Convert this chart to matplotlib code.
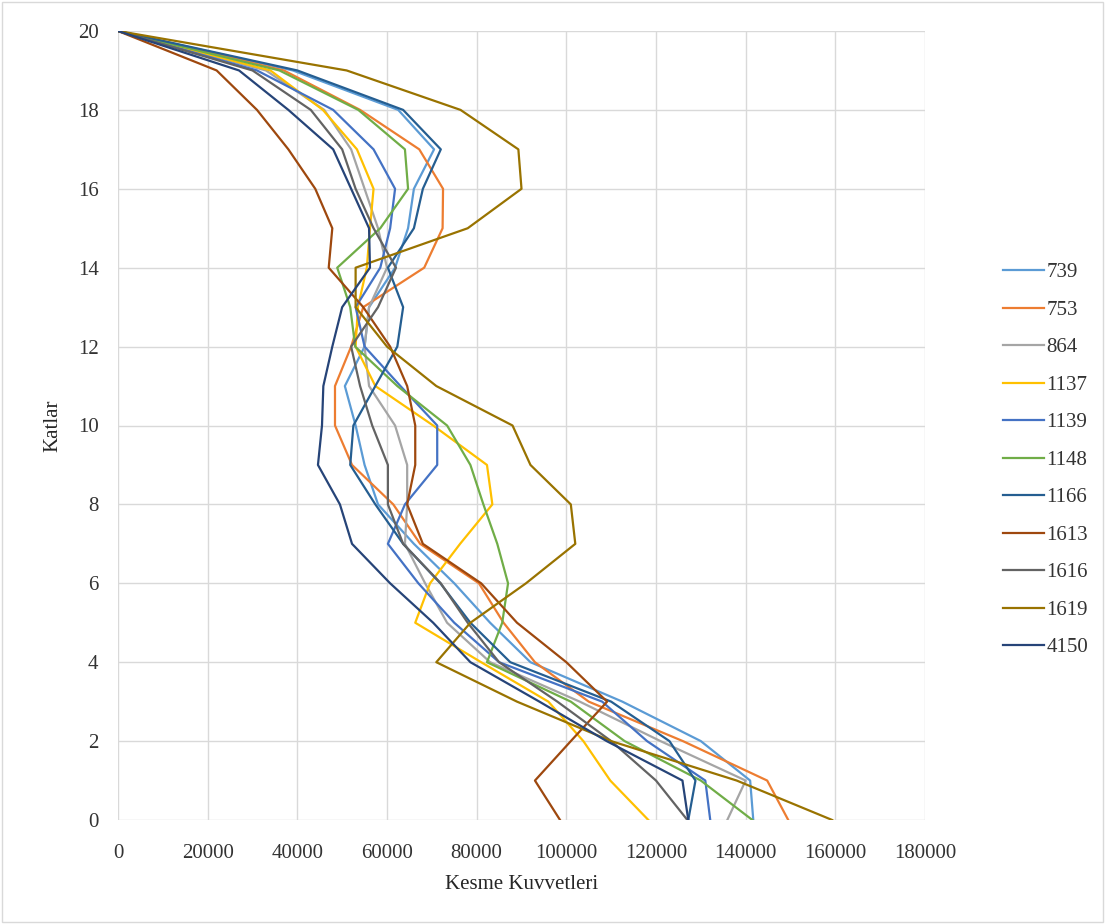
import matplotlib.pyplot as plt
from matplotlib.patches import Rectangle

# floors 0..20
floors = list(range(21))

s739 = [141700, 141000, 130000, 112500, 92000, 83000, 75000, 66000, 58000, 55000, 53000,
        50600, 55000, 56000, 61800, 64700, 66000, 70500, 62500, 39000, 0]
s753 = [149500, 144800, 126000, 105000, 93000, 86000, 80500, 67400, 61400, 52200, 48400,
        48400, 52000, 54700, 68300, 72400, 72500, 67200, 54000, 37000, 0]
s864 = [135900, 140000, 121000, 103000, 83000, 73400, 68500, 64000, 64500, 64500, 61800,
        56000, 55000, 56000, 60000, 58000, 55000, 52000, 46000, 33000, 0]
s1137 = [118300, 109800, 103800, 96000, 81000, 66300, 69600, 76300, 83500, 82300, 70300,
         57400, 53000, 53500, 55500, 56200, 57000, 53300, 45700, 34000, 0]
s1139 = [132100, 131000, 118000, 108000, 85000, 75000, 67000, 60200, 64000, 71200, 71200,
         63000, 55000, 53000, 58500, 60700, 61800, 57000, 48000, 31000, 0]
s1148 = [141500, 130000, 113000, 101000, 82300, 85700, 87000, 84600, 81500, 78600, 73400,
         62300, 52900, 51800, 48900, 58500, 64700, 64000, 53600, 36000, 0]
s1166 = [127200, 128800, 123000, 110000, 87500, 78600, 71900, 63600, 57400, 51800, 52500,
         57400, 62300, 63600, 60200, 66000, 68000, 72000, 63600, 40000, 0]
s1613 = [98600, 93000, 101000, 109100, 100000, 89000, 81000, 68000, 64500, 66300, 66300,
         64500, 60700, 54700, 47000, 47800, 44000, 38000, 31000, 22000, 0]
s1616 = [127000, 120000, 110000, 98000, 85000, 78000, 72000, 63600, 60200, 60200, 56700,
         54000, 52000, 58000, 62000, 57000, 53000, 50000, 43000, 30000, 0]
s1619 = [159300, 138000, 110000, 89000, 71000, 78600, 91000, 102000, 101000, 92000, 88000,
         71000, 60000, 53000, 53000, 78000, 90000, 89300, 76400, 51000, 0]
s4150 = [127200, 125900, 109000, 94000, 78600, 70300, 60700, 52200, 49500, 44600, 45500,
         45800, 47800, 50000, 56200, 56000, 52000, 48000, 38000, 27000, 0]

series = [("739", s739), ("753", s753), ("864", s864), ("1137", s1137), ("1139", s1139),
          ("1148", s1148), ("1166", s1166), ("1613", s1613), ("1616", s1616),
          ("1619", s1619), ("4150", s4150)]

# Excel default palette
colors = ['#5B9BD5', '#ED7D31', '#A5A5A5', '#FFC000', '#4472C4', '#70AD47',
          '#255E91', '#9E480E', '#636363', '#997300', '#264478']

plt.rcParams['font.family'] = ['Liberation Serif', 'DejaVu Serif']

fig = plt.figure(figsize=(11.05, 9.24), dpi=100)
ax = fig.add_axes([118/1105, 1 - 820/924, (925-118)/1105, (820-31)/924])

for (name, vals), c in zip(series, colors):
    ax.plot(vals, floors, color=c, linewidth=1.6, label=name)

ax.set_xlim(0, 180000)
ax.set_ylim(0, 20)
ax.set_xticks(range(0, 180001, 20000))
ax.set_yticks(range(0, 21, 2))
ax.grid(color='#D9D9D9', linewidth=1.0)
ax.set_axisbelow(True)
for sp in ax.spines.values():
    sp.set_visible(False)
ax.tick_params(length=0, labelsize=15, colors='#333333')
ax.tick_params(axis='x', pad=17)
ax.tick_params(axis='y', pad=14)
ax.set_xlabel("Kesme Kuvvetleri", fontsize=15, color='#262626', labelpad=9)
ax.set_ylabel("Katlar", fontsize=15, color='#262626', labelpad=11)

fig.legend(loc='center left', bbox_to_anchor=(984/1105, 1 - 460/924), frameon=False,
           fontsize=15, handlelength=2.0, handletextpad=0.1, labelspacing=0.86,
           labelcolor='#333333')

fig.patches.append(Rectangle((0.002, 0.002), 0.996, 0.996, transform=fig.transFigure,
                             fill=False, edgecolor='#D9D9D9', linewidth=1))

fig.savefig("out.png", dpi=100)
